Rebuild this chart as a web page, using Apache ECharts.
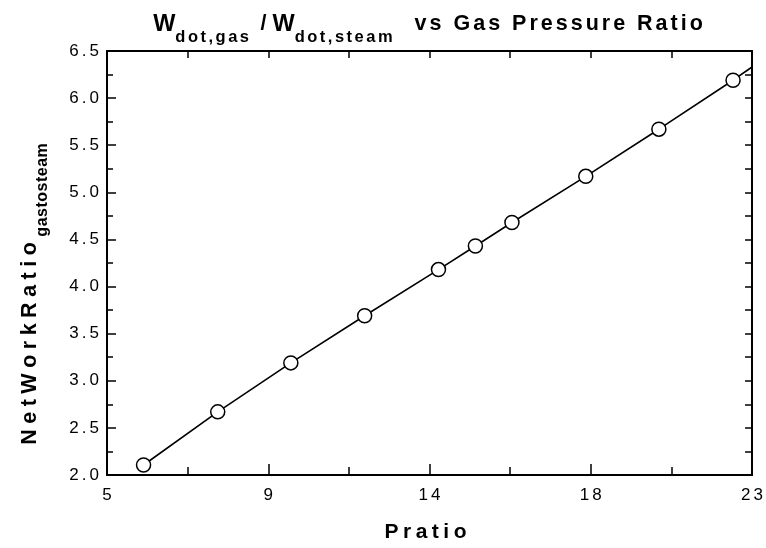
<!DOCTYPE html>
<html>
<head>
<meta charset="utf-8">
<script src="https://cdn.jsdelivr.net/npm/echarts@6/dist/echarts.min.js"></script>
<style>
  html, body { margin: 0; padding: 0; background: #fff; }
  #chart { width: 766px; height: 548px; }
</style>
</head>
<body>
<div id="chart"></div>
<script>
// Gas-to-steam net work ratio against gas turbine pressure ratio
const pratio = [6.02, 8.09, 10.13, 12.19, 14.25, 15.28, 16.30, 18.36, 20.40, 22.47];
const netWorkRatio = [2.106, 2.67, 3.19, 3.69, 4.18, 4.43, 4.68, 5.17, 5.67, 6.19];
// fitted line carries on to the right edge of the axis
const lineEndX = 23;
const lineEndY = 6.33;

const xMajorTicks = [5, 9.5, 14, 18.5, 23];
const xTickLabels = ['5', '9', '14', '18', '23'];
const xMinorTicks = [7.25, 11.75, 16.25, 20.75];
const xAllTicks = [5, 7.25, 9.5, 11.75, 14, 16.25, 18.5, 20.75, 23];

const FONT = '"Liberation Sans", Arial, sans-serif';

// Spread the letters of a string apart: every character becomes its own rich
// token whose right padding acts as letter spacing (the last one may use
// a different style).
function spaced(text, style, lastStyle) {
  const chars = Array.from(text);
  return chars.map((c, i) =>
    '{' + (i < chars.length - 1 || !lastStyle ? style : lastStyle) + '|' + c + '}'
  ).join('');
}

function boldStyle(size, lh, pad) {
  return { fontFamily: FONT, fontWeight: 'bold', fontSize: size, color: '#000', verticalAlign: 'top', lineHeight: lh, padding: pad };
}

const tickRich = {
  t: { fontFamily: FONT, fontSize: 17, color: '#000', lineHeight: 18, padding: [0, 3, 0, 0] },
  tl: { fontFamily: FONT, fontSize: 17, color: '#000', lineHeight: 18, padding: [0, 0, 0, 0] }
};

const chart = echarts.init(document.getElementById('chart'), null, { renderer: 'canvas' });

const lineData = pratio.map((x, i) => [x, netWorkRatio[i]]).concat([[lineEndX, lineEndY]]);
const markerData = pratio.map((x, i) => [x, netWorkRatio[i]]);

const tickStyle = { color: '#000', width: 1.5 };

// W_dot,gas / W_dot,steam vs Gas Pressure Ratio
const titleText =
  '{w|W}' + spaced('dot,gas', 's') +
  '{m| }{sl|/}{w|W}' + spaced('dot,steam', 's', 'se') +
  spaced(' vs Gas Pressure Ratio', 'm', 'ml');
const yNameText = spaced('NetWorkRatio', 'm') + spaced('gastosteam', 's', 'sl');

chart.setOption({
  animation: false,
  backgroundColor: '#fff',
  textStyle: { fontFamily: FONT, color: '#000' },
  title: {
    text: titleText,
    left: 423,
    textAlign: 'center',
    top: 8,
    textStyle: {
      rich: {
        w: boldStyle(23.5, 24, [0, 0, 0, 0]),
        m: boldStyle(21.5, 24, [0, 3, 0, 0]),
        ml: boldStyle(21.5, 24, [0, 0, 0, 0]),
        sl: boldStyle(21.5, 24, [0, 6, 0, 0]),
        s: boldStyle(16.5, 18, [16, 2.5, 0, 0]),
        se: boldStyle(16.5, 18, [16, 13, 0, 0])
      }
    }
  },
  grid: { left: 107, right: 13, top: 51, bottom: 72, containLabel: false },
  xAxis: [
    {
      type: 'value', position: 'bottom', min: 5, max: 23,
      name: spaced('Pratio', 'n', 'nl'), nameLocation: 'middle', nameGap: 47,
      nameTextStyle: {
        padding: [0, 8, 0, 0],
        rich: {
          n: boldStyle(21, 24, [0, 4.5, 0, 0]),
          nl: boldStyle(21, 24, [0, 0, 0, 0])
        }
      },
      axisLine: { show: true, lineStyle: { color: '#000', width: 2 } },
      axisTick: { show: true, inside: true, length: 11, customValues: xMajorTicks, lineStyle: tickStyle },
      axisLabel: {
        show: true, margin: 11, rich: tickRich,
        customValues: xMajorTicks,
        formatter: v => { const i = xMajorTicks.indexOf(v); return i >= 0 ? spaced(xTickLabels[i], 't', 'tl') : ''; }
      },
      splitLine: { show: false }
    },
    {
      type: 'value', position: 'bottom', min: 5, max: 23,
      axisLine: { show: false },
      axisTick: { show: true, inside: true, length: 8, customValues: xMinorTicks, lineStyle: tickStyle },
      axisLabel: { show: false },
      splitLine: { show: false }
    },
    {
      type: 'value', position: 'top', min: 5, max: 23,
      axisLine: { show: true, lineStyle: { color: '#000', width: 2 } },
      axisTick: { show: true, inside: true, length: 7, customValues: xAllTicks, lineStyle: tickStyle },
      axisLabel: { show: false },
      splitLine: { show: false }
    }
  ],
  yAxis: [
    {
      type: 'value', position: 'left', min: 2, max: 6.5, interval: 0.5,
      name: yNameText, nameLocation: 'middle', nameGap: 64, nameRotate: 90,
      nameTextStyle: {
        padding: [0, 62, 0, 0],
        rich: {
          m: boldStyle(21.5, 24, [0, 5.5, 0, 0]),
          s: boldStyle(16, 18, [16, 0.5, 0, 0]),
          sl: boldStyle(16, 18, [16, 0, 0, 0])
        }
      },
      axisLine: { show: true, onZero: false, lineStyle: { color: '#000', width: 2 } },
      axisTick: { show: true, inside: true, length: 9, lineStyle: tickStyle },
      minorTick: { show: true, splitNumber: 2, length: 6, lineStyle: tickStyle },
      axisLabel: { show: true, margin: 8, rich: tickRich, formatter: v => spaced(v.toFixed(1), 't', 'tl') },
      splitLine: { show: false }
    },
    {
      type: 'value', position: 'right', min: 2, max: 6.5, interval: 0.25,
      axisLine: { show: true, onZero: false, lineStyle: { color: '#000', width: 2 } },
      axisTick: { show: true, inside: true, length: 7, lineStyle: tickStyle },
      axisLabel: { show: false },
      splitLine: { show: false }
    }
  ],
  series: [
    {
      type: 'line', xAxisIndex: 0, yAxisIndex: 0,
      data: lineData, showSymbol: false, symbol: 'none',
      lineStyle: { color: '#000', width: 1.6 },
      z: 2
    },
    {
      type: 'scatter', xAxisIndex: 0, yAxisIndex: 0,
      data: markerData, symbol: 'circle', symbolSize: 14,
      itemStyle: { color: '#fff', borderColor: '#000', borderWidth: 1.5, opacity: 1 },
      z: 3
    }
  ]
});
</script>
</body>
</html>
